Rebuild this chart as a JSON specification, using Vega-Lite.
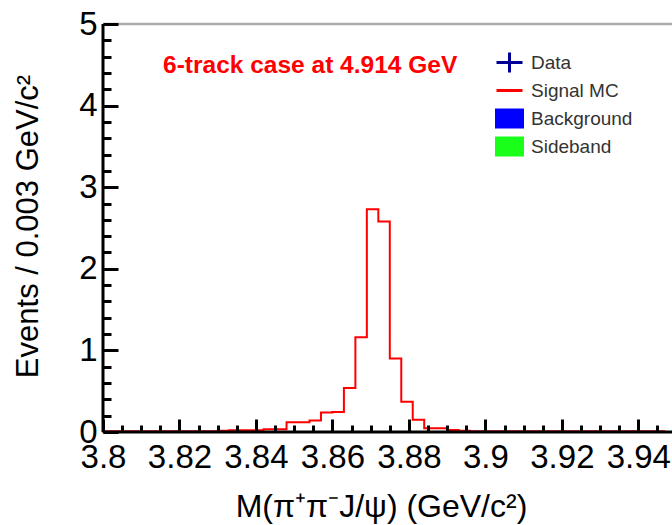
{
  "$schema": "https://vega.github.io/schema/vega-lite/v6.json",
  "width": 569,
  "height": 408,
  "autosize": {"type": "none"},
  "padding": {"left": 103, "top": 24, "right": 0, "bottom": 93},
  "background": "white",
  "config": {"view": {"stroke": null}, "font": "Liberation Sans"},
  "resolve": {"axis": {"x": "independent", "y": "independent"}},
  "layer": [
    {
      "data": {"values": [
        {"mass": 3.800, "events": 0.01, "series": "Signal MC"},
        {"mass": 3.803, "events": 0.01, "series": "Signal MC"},
        {"mass": 3.806, "events": 0.01, "series": "Signal MC"},
        {"mass": 3.809, "events": 0.01, "series": "Signal MC"},
        {"mass": 3.812, "events": 0.01, "series": "Signal MC"},
        {"mass": 3.815, "events": 0.01, "series": "Signal MC"},
        {"mass": 3.818, "events": 0.01, "series": "Signal MC"},
        {"mass": 3.821, "events": 0.01, "series": "Signal MC"},
        {"mass": 3.824, "events": 0.01, "series": "Signal MC"},
        {"mass": 3.827, "events": 0.01, "series": "Signal MC"},
        {"mass": 3.830, "events": 0.015, "series": "Signal MC"},
        {"mass": 3.833, "events": 0.02, "series": "Signal MC"},
        {"mass": 3.836, "events": 0.02, "series": "Signal MC"},
        {"mass": 3.839, "events": 0.02, "series": "Signal MC"},
        {"mass": 3.842, "events": 0.035, "series": "Signal MC"},
        {"mass": 3.845, "events": 0.035, "series": "Signal MC"},
        {"mass": 3.848, "events": 0.12, "series": "Signal MC"},
        {"mass": 3.851, "events": 0.12, "series": "Signal MC"},
        {"mass": 3.854, "events": 0.14, "series": "Signal MC"},
        {"mass": 3.857, "events": 0.24, "series": "Signal MC"},
        {"mass": 3.860, "events": 0.245, "series": "Signal MC"},
        {"mass": 3.863, "events": 0.54, "series": "Signal MC"},
        {"mass": 3.866, "events": 1.16, "series": "Signal MC"},
        {"mass": 3.869, "events": 2.73, "series": "Signal MC"},
        {"mass": 3.872, "events": 2.58, "series": "Signal MC"},
        {"mass": 3.875, "events": 0.9, "series": "Signal MC"},
        {"mass": 3.878, "events": 0.37, "series": "Signal MC"},
        {"mass": 3.881, "events": 0.15, "series": "Signal MC"},
        {"mass": 3.884, "events": 0.045, "series": "Signal MC"},
        {"mass": 3.887, "events": 0.045, "series": "Signal MC"},
        {"mass": 3.890, "events": 0.025, "series": "Signal MC"},
        {"mass": 3.893, "events": 0.015, "series": "Signal MC"},
        {"mass": 3.896, "events": 0.01, "series": "Signal MC"},
        {"mass": 3.899, "events": 0.01, "series": "Signal MC"},
        {"mass": 3.902, "events": 0.01, "series": "Signal MC"},
        {"mass": 3.905, "events": 0.01, "series": "Signal MC"},
        {"mass": 3.908, "events": 0.01, "series": "Signal MC"},
        {"mass": 3.911, "events": 0.01, "series": "Signal MC"},
        {"mass": 3.914, "events": 0.01, "series": "Signal MC"},
        {"mass": 3.917, "events": 0.01, "series": "Signal MC"},
        {"mass": 3.920, "events": 0.01, "series": "Signal MC"},
        {"mass": 3.923, "events": 0.01, "series": "Signal MC"},
        {"mass": 3.926, "events": 0.01, "series": "Signal MC"},
        {"mass": 3.929, "events": 0.01, "series": "Signal MC"},
        {"mass": 3.932, "events": 0.01, "series": "Signal MC"},
        {"mass": 3.935, "events": 0.01, "series": "Signal MC"},
        {"mass": 3.938, "events": 0.01, "series": "Signal MC"},
        {"mass": 3.941, "events": 0.01, "series": "Signal MC"},
        {"mass": 3.944, "events": 0.01, "series": "Signal MC"},
        {"mass": 3.947, "events": 0.01, "series": "Signal MC"}
      ]},
      "mark": {"type": "line", "interpolate": "step-after", "strokeWidth": 2, "clip": true},
      "encoding": {
        "x": {"field": "mass", "type": "quantitative", "scale": {"domain": [3.8, 3.9488], "nice": false, "zero": false},
          "axis": {"orient": "bottom", "values": [3.8,3.82,3.84,3.86,3.88,3.9,3.92,3.94], "format": ".2~f",
            "tickSize": -13, "tickWidth": 3, "tickColor": "black", "domain": false,
            "labelFontSize": 33, "labelColor": "black", "labelPadding": 22, "labelFlush": false, "labelOverlap": false, "labelBound": false,
            "grid": false, "zindex": 1,
            "title": "M(π⁺π⁻J/ψ) (GeV/c²)", "titleFontSize": 32, "titleFontWeight": "normal", "titleColor": "black", "titlePadding": 17, "titleX": 278}},
        "y": {"field": "events", "type": "quantitative", "scale": {"domain": [0, 5], "nice": false},
          "axis": {"orient": "left", "values": [0,1,2,3,4,5], "format": "d",
            "tickSize": -15, "tickWidth": 3, "tickColor": "black", "domain": false,
            "labelFontSize": 33, "labelColor": "black", "labelPadding": 21, "labelFlush": false, "labelOverlap": false, "labelBound": false,
            "grid": false, "zindex": 1,
            "title": "Events / 0.003 GeV/c²", "titleFontSize": 31, "titleFontWeight": "normal", "titleColor": "black", "titlePadding": 34, "titleY": 202}},
        "color": {"field": "series", "type": "nominal",
          "scale": {"domain": ["Data", "Signal MC", "Background", "Sideband"], "range": ["#000099", "#ff0000", "#0000ff", "#1aff1a"]},
          "legend": {"orient": "none", "legendX": 395, "legendY": 27, "title": null, "padding": 0,
            "symbolSize": 400, "symbolStrokeWidth": 3, "rowPadding": -6, "gridAlign": "all",
            "labelFontSize": 19, "labelColor": "#333333", "labelOffset": 10, "labelFont": "Liberation Sans",
            "encode": {"symbols": {"update": {
              "shape": {"signal": "datum.value === 'Data' ? 'M-1.3,0H1.3M0,-1V1' : datum.value === 'Signal MC' ? 'M-1.3,0H1.3' : 'M-1.3,-0.85H1.3V0.85H-1.3Z'"},
              "fill": {"signal": "datum.value === 'Background' ? '#0000ff' : datum.value === 'Sideband' ? '#1aff1a' : 'transparent'"},
              "stroke": {"signal": "datum.value === 'Data' ? '#000099' : datum.value === 'Signal MC' ? '#ff0000' : 'transparent'"},
              "strokeWidth": {"value": 3},
              "opacity": {"value": 1}
            }}}}}
      }
    },
    {
      "data": {"values": [{}]},
      "mark": {"type": "rule", "color": "#aaaaaa", "strokeWidth": 2.5},
      "encoding": {
        "y": {"datum": 5, "type": "quantitative",
          "axis": {"orient": "left", "values": [0.2,0.4,0.6,0.8,1.2,1.4,1.6,1.8,2.2,2.4,2.6,2.8,3.2,3.4,3.6,3.8,4.2,4.4,4.6,4.8],
            "labels": false, "domain": false, "grid": false, "tickSize": -8, "tickWidth": 3, "tickColor": "black", "title": null, "zindex": 1}}
      }
    },
    {
      "data": {"values": [{}]},
      "mark": {"type": "rule", "color": "black", "strokeWidth": 3},
      "encoding": {
        "y": {"datum": 0, "type": "quantitative", "axis": null}
      }
    },
    {
      "data": {"values": [{}]},
      "mark": {"type": "rule", "color": "black", "strokeWidth": 3},
      "encoding": {
        "x": {"datum": 3.8, "type": "quantitative",
          "axis": {"orient": "bottom", "values": [3.805,3.81,3.815,3.825,3.83,3.835,3.845,3.85,3.855,3.865,3.87,3.875,3.885,3.89,3.895,3.905,3.91,3.915,3.925,3.93,3.935,3.945],
            "labels": false, "domain": false, "grid": false, "tickSize": -7, "tickWidth": 3, "tickColor": "black", "title": null, "zindex": 1}}
      }
    },
    {
      "data": {"values": [{"label": "6-track case at 4.914 GeV"}]},
      "mark": {"type": "text", "align": "left", "baseline": "middle", "color": "#ff0000", "fontSize": 24.5, "fontWeight": "bold", "font": "Liberation Sans"},
      "encoding": {
        "x": {"datum": 3.8157, "type": "quantitative", "axis": null},
        "y": {"datum": 4.485, "type": "quantitative", "axis": null},
        "text": {"field": "label"}
      }
    }
  ]
}
